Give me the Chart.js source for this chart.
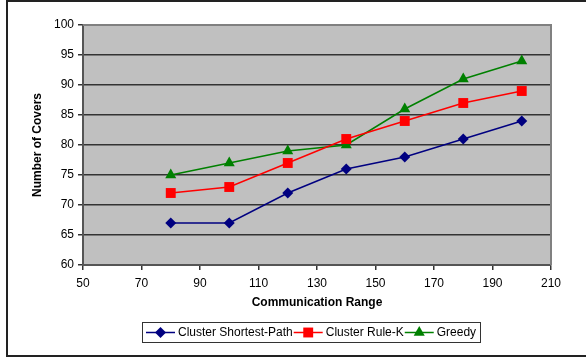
<!DOCTYPE html>
<html>
<head>
<meta charset="utf-8">
<script src="https://cdn.jsdelivr.net/npm/chart.js@4.4.1/dist/chart.umd.min.js"></script>
<style>
  html, body { margin: 0; padding: 0; background: #fff; }
  #wrap { width: 586px; height: 358px; position: relative; }
</style>
</head>
<body>
<div id="wrap"><canvas id="c" width="586" height="358"></canvas></div>
<script>
// Communication range on the x axis, number of covers per algorithm on the y axis
const ranges = [80, 100, 120, 140, 160, 180, 200];
const shortestPath = [67, 67, 72, 76, 78, 81, 84];
const ruleK = [72, 73, 77, 81, 84, 87, 89];
const greedy = [75, 77, 79, 80, 86, 91, 94];
const seriesNames = ['Cluster Shortest-Path', 'Cluster Rule-K', 'Greedy'];

const FONT = '"Liberation Sans", Arial, sans-serif';
const FONT_SIZE = 12;

function toPoints(vals) {
  return ranges.map((x, i) => ({ x: x, y: vals[i] }));
}

// Grey plot area, frame, and an outer border around the whole figure
const framePlugin = {
  id: 'frame',
  beforeDraw(chart) {
    const { ctx, chartArea: a } = chart;
    ctx.save();
    ctx.fillStyle = '#fff';
    ctx.fillRect(0, 0, chart.width, chart.height);
    ctx.fillStyle = '#C0C0C0';
    ctx.fillRect(a.left, a.top, a.right - a.left, a.bottom - a.top);
    ctx.restore();
  },
  beforeDatasetsDraw(chart) {
    const { ctx, chartArea: a } = chart;
    ctx.save();
    ctx.strokeStyle = '#808080';
    ctx.lineWidth = 2;
    ctx.beginPath();
    ctx.moveTo(a.left, a.top);
    ctx.lineTo(a.right, a.top);
    ctx.lineTo(a.right, a.bottom);
    ctx.stroke();
    ctx.restore();
  },
  afterDraw(chart) {
    const { ctx } = chart;
    ctx.save();
    ctx.strokeStyle = '#222';
    ctx.lineWidth = 2;
    ctx.beginPath();
    ctx.moveTo(600, 1);
    ctx.lineTo(7, 1);
    ctx.lineTo(7, 356);
    ctx.lineTo(600, 356);
    ctx.stroke();
    ctx.restore();
  }
};

// Boxed legend below the axis title: line segment with marker, then label
const legendPlugin = {
  id: 'boxLegend',
  afterDraw(chart) {
    const { ctx } = chart;
    const boxX = 142.5, boxY = 322.5, boxW = 338, boxH = 20;
    const cy = boxY + boxH / 2;
    ctx.save();
    ctx.strokeStyle = '#333';
    ctx.lineWidth = 1;
    ctx.strokeRect(boxX, boxY, boxW, boxH);
    ctx.font = FONT_SIZE + 'px ' + FONT;
    ctx.textBaseline = 'middle';
    let x = boxX + 3.5;
    chart.data.datasets.forEach((ds, i) => {
      const segW = 29;
      ctx.strokeStyle = ds.borderColor;
      ctx.lineWidth = 1.5;
      ctx.beginPath();
      ctx.moveTo(x, cy);
      ctx.lineTo(x + segW, cy);
      ctx.stroke();
      ctx.fillStyle = ds.pointBackgroundColor;
      ctx.beginPath();
      Chart.helpers.drawPoint(ctx, {
        pointStyle: ds.pointStyle,
        rotation: 0,
        borderWidth: 0,
        radius: styles[i].radius
      }, x + segW / 2, cy);
      ctx.fillStyle = '#000';
      ctx.fillText(ds.label, x + segW + 3, cy + 0.5);
      x += segW + 3 + ctx.measureText(ds.label).width + 1;
    });
    ctx.restore();
  }
};

const styles = [
  { color: '#000080', point: 'rectRot', radius: 5.5 },
  { color: '#FF0000', point: 'rect', radius: 7 },
  { color: '#008000', point: 'triangle', radius: 6.4 }
];
const seriesData = [shortestPath, ruleK, greedy];

new Chart(document.getElementById('c'), {
  type: 'line',
  data: {
    datasets: seriesData.map((vals, i) => ({
      label: seriesNames[i],
      data: toPoints(vals),
      borderColor: styles[i].color,
      backgroundColor: styles[i].color,
      pointBackgroundColor: styles[i].color,
      pointBorderColor: styles[i].color,
      pointBorderWidth: 0,
      pointStyle: styles[i].point,
      pointRadius: styles[i].radius,
      pointHoverRadius: styles[i].radius,
      borderWidth: 1.5,
      tension: 0,
      fill: false
    }))
  },
  options: {
    responsive: false,
    animation: false,
    layout: { padding: { left: 0, top: 25, right: 35, bottom: 0 } },
    plugins: {
      legend: { display: false },
      tooltip: { enabled: false }
    },
    scales: {
      x: {
        type: 'linear',
        min: 50,
        max: 210,
        ticks: {
          stepSize: 20,
          color: '#000',
          padding: 6,
          font: { family: FONT, size: FONT_SIZE }
        },
        grid: {
          drawOnChartArea: false,
          drawTicks: true,
          tickLength: 5,
          color: '#333',
          lineWidth: 1.5
        },
        border: { display: true, color: '#555', width: 2 },
        title: {
          display: true,
          text: 'Communication Range',
          color: '#000',
          font: { family: FONT, size: FONT_SIZE, weight: 'bold' },
          padding: { top: 0, bottom: 48 }
        },
        afterFit(scale) { scale.height = 93; }
      },
      y: {
        min: 60,
        max: 100,
        ticks: {
          stepSize: 5,
          color: '#000',
          padding: 4,
          font: { family: FONT, size: FONT_SIZE }
        },
        grid: {
          drawOnChartArea: true,
          drawTicks: true,
          tickLength: 5,
          color: '#333',
          lineWidth: 1.5
        },
        border: { display: true, color: '#555', width: 2 },
        title: {
          display: true,
          text: 'Number of Covers',
          color: '#000',
          font: { family: FONT, size: FONT_SIZE, weight: 'bold' },
          padding: { top: 30, bottom: 0 }
        },
        afterFit(scale) { scale.width = 83; }
      }
    }
  },
  plugins: [framePlugin, legendPlugin]
});
</script>
</body>
</html>
